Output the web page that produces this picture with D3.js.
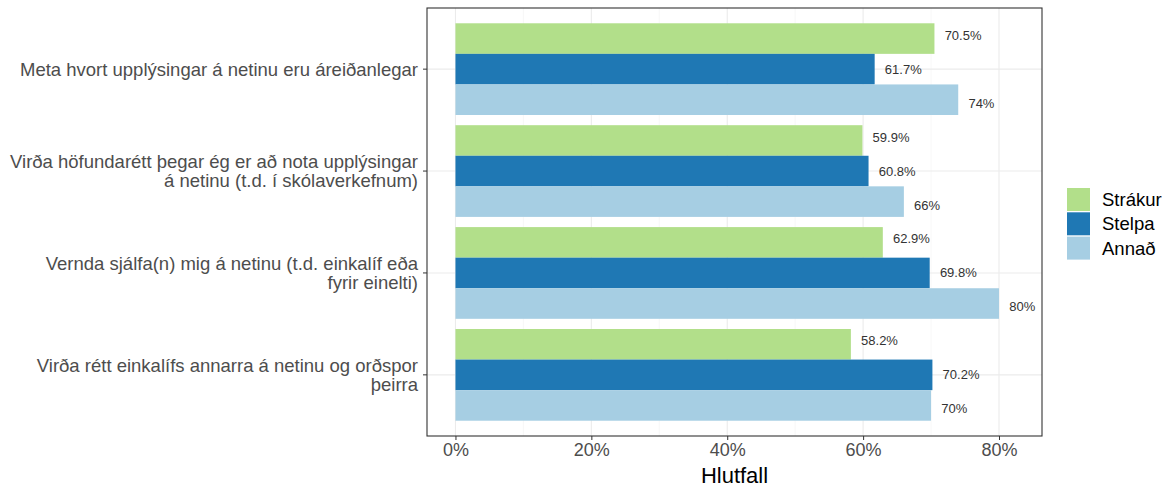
<!DOCTYPE html>
<html><head><meta charset="utf-8">
<script src="https://cdn.jsdelivr.net/npm/d3@7"></script>
<style>body{margin:0;background:#fff}svg{display:block;font-family:"Liberation Sans",Arial,sans-serif}</style>
</head><body>
<svg id="c" width="1170" height="489"></svg>
<script>
const categories = [
  "Meta hvort upplýsingar á netinu eru áreiðanlegar",
  "Virða höfundarétt þegar ég er að nota upplýsingar\ná netinu (t.d. í skólaverkefnum)",
  "Vernda sjálfa(n) mig á netinu (t.d. einkalíf eða\nfyrir einelti)",
  "Virða rétt einkalífs annarra á netinu og orðspor\nþeirra"
];
const series = ["Strákur", "Stelpa", "Annað"];
const strakur = [70.5, 59.9, 62.9, 58.2];
const stelpa  = [61.7, 60.8, 69.8, 70.2];
const annad   = [74, 66, 80, 70];
const valueLabels = [
  ["70.5%", "59.9%", "62.9%", "58.2%"],
  ["61.7%", "60.8%", "69.8%", "70.2%"],
  ["74%", "66%", "80%", "70%"]
];
const xTicks = [0, 20, 40, 60, 80];
const xMinor = [10, 30, 50, 70];
const colors = ["#b2df8a", "#1f78b4", "#a6cee3"];
const xTitle = "Hlutfall";

const values = [strakur, stelpa, annad];
const data = [];
categories.forEach((c, ci) => series.forEach((s, si) => data.push({c, s, si, v: values[si][ci], lab: valueLabels[si][ci]})));

const svg = d3.select("#c");
const P = {l: 427, r: 1042, t: 8, b: 436};
const x = d3.scaleLinear().domain([-4.19, 86.33]).range([P.l, P.r]);
const y = d3.scaleBand().domain(categories).range([P.t, P.b]).paddingInner(0).paddingOuter(0.1);
const step = y.step();
const sub = d3.scaleBand().domain(series).range([-0.45 * step, 0.45 * step]);
const txt = d3.scaleBand().domain(series).range([-0.5 * step, 0.5 * step]);

const g = svg.append("g");
// grid
g.selectAll(".minor").data(xMinor).join("line")
  .attr("x1", d => x(d)).attr("x2", d => x(d)).attr("y1", P.t).attr("y2", P.b)
  .attr("stroke", "#f2f2f2").attr("stroke-width", 0.6);
g.selectAll(".major").data(xTicks).join("line")
  .attr("x1", d => x(d)).attr("x2", d => x(d)).attr("y1", P.t).attr("y2", P.b)
  .attr("stroke", "#ebebeb").attr("stroke-width", 1.1);
g.selectAll(".hmajor").data(categories).join("line")
  .attr("x1", P.l).attr("x2", P.r).attr("y1", d => y(d) + step / 2).attr("y2", d => y(d) + step / 2)
  .attr("stroke", "#ebebeb").attr("stroke-width", 1.1);

// bars
g.selectAll(".bar").data(data).join("rect")
  .attr("x", x(0)).attr("width", d => x(d.v) - x(0))
  .attr("y", d => y(d.c) + step / 2 + sub(d.s)).attr("height", sub.bandwidth())
  .attr("fill", d => colors[d.si]);

// value labels
g.selectAll(".vl").data(data).join("text")
  .attr("x", d => x(d.v + 1.5)).attr("y", d => y(d.c) + step / 2 + txt(d.s) + txt.bandwidth() / 2)
  .attr("text-anchor", "start").attr("dominant-baseline", "central")
  .attr("font-size", 13).attr("fill", "#333").text(d => d.lab);

// panel border
svg.append("rect").attr("x", P.l).attr("y", P.t).attr("width", P.r - P.l).attr("height", P.b - P.t)
  .attr("fill", "none").attr("stroke", "#333").attr("stroke-width", 1.1);

// x axis
const xa = svg.append("g").attr("transform", `translate(0,${P.b})`)
  .call(d3.axisBottom(x).tickValues(xTicks).tickFormat(d => d + "%").tickSize(4).tickPadding(3));
xa.select(".domain").remove();
xa.selectAll("line").attr("stroke", "#333");
xa.selectAll("text").attr("font-size", 18).attr("fill", "#4d4d4d").attr("font-family", "Liberation Sans, Arial, sans-serif");

// y axis
const ya = svg.append("g").attr("transform", `translate(${P.l},0)`)
  .call(d3.axisLeft(y).tickSize(4).tickPadding(5).tickFormat(""));
ya.select(".domain").remove();
ya.selectAll("line").attr("stroke", "#333");
ya.selectAll(".tick").each(function(d) {
  const lines = d.split("\n");
  const t = d3.select(this).select("text").text(null)
    .attr("font-size", 18.5).attr("fill", "#4d4d4d").attr("text-anchor", "end")
    .attr("font-family", "Liberation Sans, Arial, sans-serif");
  const lh = 19.5;
  lines.forEach((ln, i) => {
    t.append("tspan").attr("x", -9).attr("y", (i - (lines.length - 1) / 2) * lh).attr("dy", "0.35em").text(ln);
  });
});

// x title
svg.append("text").attr("x", (P.l + P.r) / 2).attr("y", 483).attr("text-anchor", "middle")
  .attr("font-size", 22).attr("fill", "#000").text(xTitle);

// legend
const lg = svg.append("g").attr("transform", "translate(1067,188)");
series.forEach((s, i) => {
  lg.append("rect").attr("x", 0).attr("y", i * 24.3).attr("width", 23).attr("height", 23).attr("fill", colors[i]);
  lg.append("text").attr("x", 35).attr("y", i * 24.3 + 11.5).attr("dominant-baseline", "central")
    .attr("font-size", 18.5).attr("fill", "#000").text(s);
});
</script>
</body></html>
